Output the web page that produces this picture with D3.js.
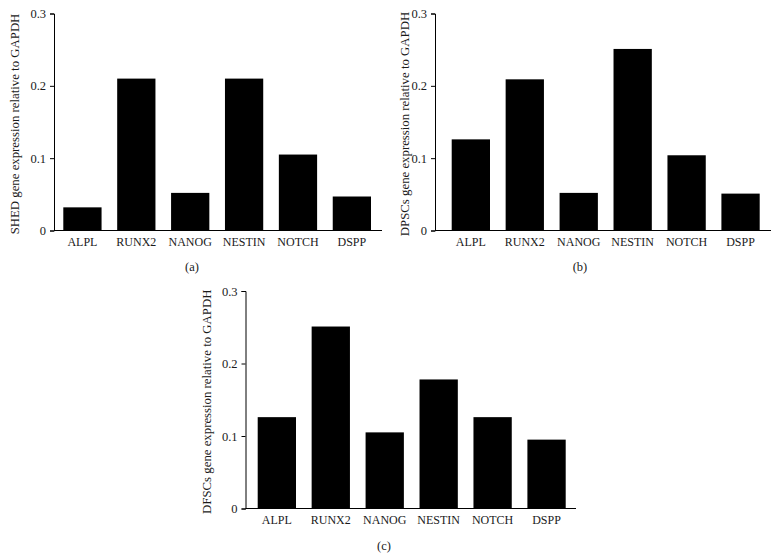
<!DOCTYPE html>
<html>
<head>
<meta charset="utf-8">
<script src="https://cdn.jsdelivr.net/npm/d3@7"></script>
<style>
  body { margin: 0; background: #fff; }
  svg { display: block; }
  text { font-family: "Liberation Serif", "DejaVu Serif", serif; fill: #1a1a1a; }
</style>
</head>
<body>
<svg id="svgmain" width="777" height="559"></svg>
<script>
var genes = ["ALPL", "RUNX2", "NANOG", "NESTIN", "NOTCH", "DSPP"]
var shedValues = [0.032, 0.21, 0.052, 0.21, 0.105, 0.047]
var dpscValues = [0.126, 0.209, 0.052, 0.251, 0.104, 0.051]
var dfscValues = [0.126, 0.251, 0.105, 0.178, 0.126, 0.095]
var yTicks = [0, 0.1, 0.2, 0.3]

// one entry per small chart: where it sits on the page
var panels = [
    { values: shedValues, label: "SHED gene expression relative to GAPDH", caption: "(a)",
      axisX: 54, axisEnd: 382, barsFrom: 63.3, barsTo: 371, top: 13.5, bottom: 230.5,
      labelX: 15, captionX: 192, captionY: 271 },
    { values: dpscValues, label: "DPSCs gene expression relative to GAPDH", caption: "(b)",
      axisX: 435, axisEnd: 771, barsFrom: 451.7, barsTo: 759.7, top: 13.5, bottom: 230.5,
      labelX: 405, captionX: 580, captionY: 271 },
    { values: dfscValues, label: "DFSCs gene expression relative to GAPDH", caption: "(c)",
      axisX: 245.5, axisEnd: 576, barsFrom: 257.7, barsTo: 565.7, top: 291, bottom: 508.5,
      labelX: 207, captionX: 384, captionY: 550 }
]

var svg = d3.select("#svgmain")

panels.forEach(function(p) {
    var g = svg.append("g")
    var x = d3.scaleBand().domain(genes).range([p.barsFrom, p.barsTo])
        .paddingInner(0.29).paddingOuter(0)
    var y = d3.scaleLinear().domain([0, 0.3]).range([p.bottom, p.top])

    g.selectAll("rect.bar").data(p.values).enter().append("rect")
        .attr("class", "bar")
        .attr("x", function(d, i) { return x(genes[i]) })
        .attr("width", x.bandwidth())
        .attr("y", function(d) { return y(d) })
        .attr("height", function(d) { return y(0) - y(d) })
        .attr("fill", "#000")

    // y axis
    var ya = g.append("g").attr("transform", "translate(" + p.axisX + ",0)")
        .call(d3.axisLeft(y).tickValues(yTicks).tickSizeOuter(0).tickSize(4).tickPadding(4)
            .tickFormat(function(d) { return d === 0 ? "0" : d3.format(".1f")(d) }))
    ya.select(".domain").attr("stroke", "#000").attr("stroke-width", 1)
    ya.selectAll(".tick line").attr("stroke", "#000")
    ya.selectAll(".tick text").style("font-size", "12.5px")
        .style("font-family", "'Liberation Serif', serif").attr("fill", "#1a1a1a")

    // x axis baseline
    g.append("line")
        .attr("x1", p.axisX).attr("x2", p.axisEnd)
        .attr("y1", y(0)).attr("y2", y(0))
        .attr("stroke", "#000")

    g.selectAll("text.cat").data(genes).enter().append("text")
        .attr("class", "cat")
        .attr("x", function(d) { return x(d) + x.bandwidth() / 2 })
        .attr("y", y(0) + 15.5)
        .attr("text-anchor", "middle")
        .style("font-size", "12px")
        .text(function(d) { return d })

    g.append("text")
        .attr("transform", "translate(" + p.labelX + "," + ((p.top + p.bottom) / 2 + 2) + ") rotate(-90)")
        .attr("text-anchor", "middle")
        .attr("dy", "0.35em")
        .style("font-size", "12.8px")
        .text(p.label)

    g.append("text")
        .attr("x", p.captionX).attr("y", p.captionY)
        .attr("text-anchor", "middle")
        .style("font-size", "12.5px")
        .text(p.caption)
})
</script>
</body>
</html>
